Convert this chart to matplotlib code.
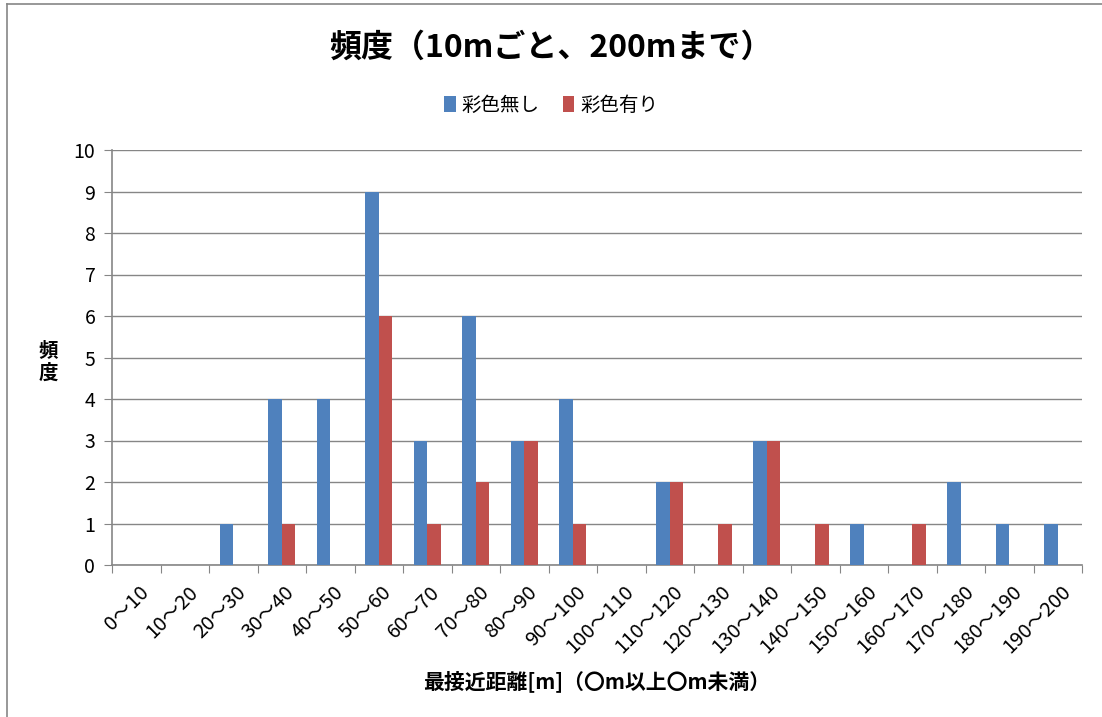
import matplotlib
matplotlib.use("Agg")
import matplotlib.pyplot as plt
import numpy as np

plt.rcParams['font.family'] = ['Noto Sans CJK JP', 'DejaVu Sans']

categories = ['0〜10', '10〜20', '20〜30', '30〜40', '40〜50', '50〜60', '60〜70',
              '70〜80', '80〜90', '90〜100', '100〜110', '110〜120', '120〜130',
              '130〜140', '140〜150', '150〜160', '160〜170', '170〜180',
              '180〜190', '190〜200']
no_color = [0, 0, 1, 4, 4, 9, 3, 6, 3, 4, 0, 2, 0, 3, 0, 1, 0, 2, 1, 1]
with_color = [0, 0, 0, 1, 0, 6, 1, 2, 3, 1, 0, 2, 1, 3, 1, 0, 1, 0, 0, 0]

fig = plt.figure(figsize=(11.02, 7.17), dpi=100)
ax = fig.add_axes([112/1102, 1-565/717, (1082-112)/1102, (565-150)/717])

x = np.arange(len(categories))
w = 0.275
ax.bar(x - w/2, no_color, w, color='#4F81BD', label='彩色無し', zorder=3)
ax.bar(x + w/2, with_color, w, color='#C0504D', label='彩色有り', zorder=3)

ax.set_xlim(-0.5, len(categories) - 0.5)
ax.set_ylim(0, 10)
ax.set_yticks(range(0, 11))
ax.yaxis.grid(True, color='#868686', linewidth=1, zorder=0)
for s in ['top', 'right']:
    ax.spines[s].set_visible(False)
for s in ['left', 'bottom']:
    ax.spines[s].set_color('#868686')
    ax.spines[s].set_linewidth(1.2)

ax.set_xticks(np.arange(-0.5, len(categories)), minor=False)
ax.set_xticklabels([])
ax.set_xticks(x + 0.05, minor=True)
ax.set_xticklabels(categories, minor=True, rotation=45, ha='right',
                   rotation_mode='anchor', fontsize=14.5)
ax.tick_params(axis='x', which='major', length=6, color='#868686')
ax.tick_params(axis='x', which='minor', length=0, pad=12)
ax.tick_params(axis='y', length=6, color='#868686', labelsize=14, pad=6)

fig.text(0.5, 0.933, '頻度（10mごと、200mまで）', ha='center', va='center',
         fontsize=23, fontweight='bold')
ax.legend(loc='center', bbox_to_anchor=(0.5, 1 - 105/717), bbox_transform=fig.transFigure,
          ncol=2, frameon=False, fontsize=14, handlelength=0.6, handleheight=0.9,
          handletextpad=0.3, columnspacing=1.2)
fig.text(597/1102, 1 - 681/717, '最接近距離[m]（〇m以上〇m未満）', ha='center', va='center',
         fontsize=15, fontweight='bold')
fig.text(48/1102, 1 - 362/717, '頻\n度', ha='center', va='center',
         fontsize=14, fontweight='bold', linespacing=1.2)

# chart frame
fig.add_artist(plt.Line2D([7/1102, 7/1102], [0, 1 - 4/717], transform=fig.transFigure,
                          color='#868686', linewidth=1.2))
fig.add_artist(plt.Line2D([7/1102, 1], [1 - 4/717, 1 - 4/717], transform=fig.transFigure,
                          color='#868686', linewidth=1.2))

fig.savefig('out.png', dpi=100)
